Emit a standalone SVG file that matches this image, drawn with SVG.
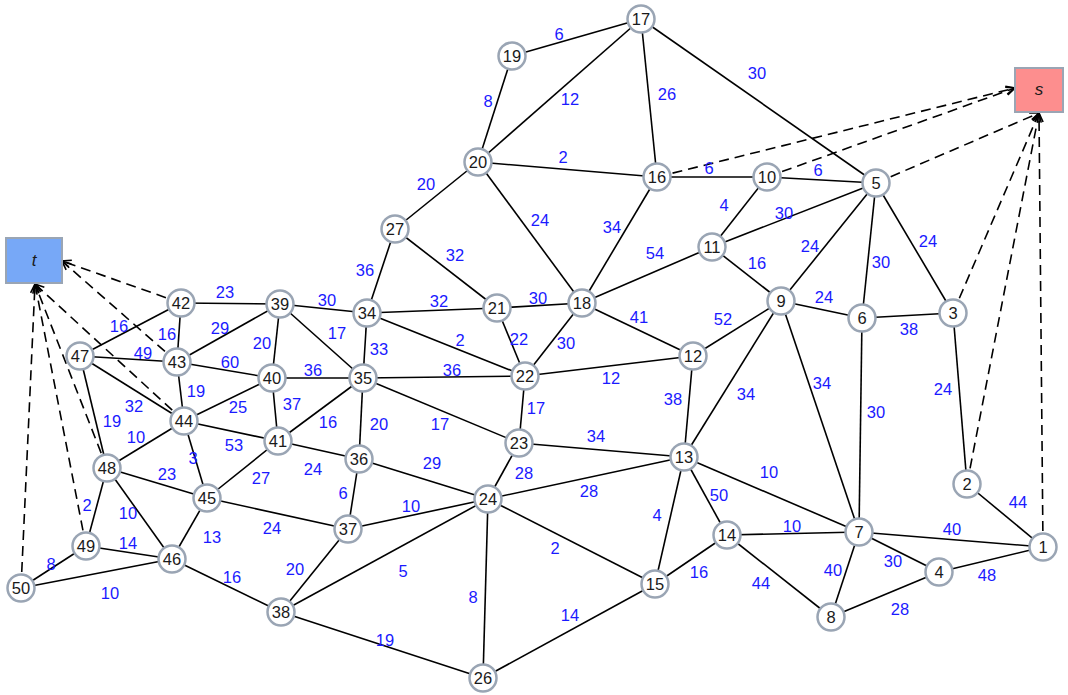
<svg xmlns="http://www.w3.org/2000/svg" width="1068" height="695" viewBox="0 0 1068 695">
<style>
.e{stroke:#000;stroke-width:1.6;fill:none}
.d{stroke:#000;stroke-width:1.6;fill:none;stroke-dasharray:10,6;marker-end:url(#ah)}
.n circle{fill:#fff;stroke:#9aa5b4;stroke-width:2.5}
.n text{font-family:"Liberation Sans",Arial,sans-serif;font-size:16.5px;fill:#1a1a1a;text-anchor:middle}
.w{font-family:"Liberation Sans",Arial,sans-serif;font-size:16.5px;fill:#1a1aff;text-anchor:middle}
.box{stroke:#9aa5b4;stroke-width:2}
.it{font-family:"Liberation Sans",Arial,sans-serif;font-size:17px;font-style:italic;fill:#1a1a1a;text-anchor:middle}
</style>
<defs>
<marker id="ah" markerUnits="userSpaceOnUse" markerWidth="12" markerHeight="10" refX="10" refY="5" orient="auto">
<path d="M1,1 L10,5 L1,9" fill="none" stroke="#000" stroke-width="1.6"/>
</marker>
</defs>
<g id="connectors">
<line class="e" x1="641" y1="19" x2="512" y2="56"/>
<line class="e" x1="641" y1="19" x2="478" y2="162"/>
<line class="e" x1="641" y1="19" x2="657" y2="177"/>
<line class="e" x1="641" y1="19" x2="876" y2="183"/>
<line class="e" x1="512" y1="56" x2="478" y2="162"/>
<line class="e" x1="478" y1="162" x2="657" y2="177"/>
<line class="e" x1="478" y1="162" x2="395" y2="229"/>
<line class="e" x1="478" y1="162" x2="582" y2="303"/>
<line class="e" x1="657" y1="177" x2="767" y2="177"/>
<line class="e" x1="657" y1="177" x2="582" y2="303"/>
<line class="e" x1="767" y1="177" x2="876" y2="183"/>
<line class="e" x1="767" y1="177" x2="712" y2="247"/>
<line class="e" x1="712" y1="247" x2="876" y2="183"/>
<line class="e" x1="712" y1="247" x2="582" y2="303"/>
<line class="e" x1="712" y1="247" x2="781" y2="301"/>
<line class="e" x1="876" y1="183" x2="781" y2="301"/>
<line class="e" x1="876" y1="183" x2="862" y2="318"/>
<line class="e" x1="876" y1="183" x2="953" y2="313"/>
<line class="e" x1="781" y1="301" x2="862" y2="318"/>
<line class="e" x1="862" y1="318" x2="953" y2="313"/>
<line class="e" x1="781" y1="301" x2="693" y2="356"/>
<line class="e" x1="781" y1="301" x2="684" y2="457"/>
<line class="e" x1="781" y1="301" x2="859" y2="532"/>
<line class="e" x1="862" y1="318" x2="859" y2="532"/>
<line class="e" x1="953" y1="313" x2="967" y2="484"/>
<line class="e" x1="967" y1="484" x2="1043" y2="547"/>
<line class="e" x1="395" y1="229" x2="367" y2="313"/>
<line class="e" x1="395" y1="229" x2="497" y2="308"/>
<line class="e" x1="582" y1="303" x2="497" y2="308"/>
<line class="e" x1="582" y1="303" x2="525" y2="376"/>
<line class="e" x1="582" y1="303" x2="693" y2="356"/>
<line class="e" x1="497" y1="308" x2="525" y2="376"/>
<line class="e" x1="367" y1="313" x2="497" y2="308"/>
<line class="e" x1="367" y1="313" x2="525" y2="376"/>
<line class="e" x1="367" y1="313" x2="280" y2="304"/>
<line class="e" x1="367" y1="313" x2="363" y2="378"/>
<line class="e" x1="280" y1="304" x2="181" y2="303"/>
<line class="e" x1="280" y1="304" x2="177" y2="362"/>
<line class="e" x1="280" y1="304" x2="272" y2="378"/>
<line class="e" x1="280" y1="304" x2="363" y2="378"/>
<line class="e" x1="272" y1="378" x2="363" y2="378"/>
<line class="e" x1="272" y1="378" x2="177" y2="362"/>
<line class="e" x1="272" y1="378" x2="184" y2="421"/>
<line class="e" x1="272" y1="378" x2="278" y2="441"/>
<line class="e" x1="363" y1="378" x2="525" y2="376"/>
<line class="e" x1="363" y1="378" x2="278" y2="441"/>
<line class="e" x1="363" y1="378" x2="359" y2="459"/>
<line class="e" x1="363" y1="378" x2="519" y2="443"/>
<line class="e" x1="525" y1="376" x2="693" y2="356"/>
<line class="e" x1="525" y1="376" x2="519" y2="443"/>
<line class="e" x1="519" y1="443" x2="684" y2="457"/>
<line class="e" x1="519" y1="443" x2="488" y2="499"/>
<line class="e" x1="693" y1="356" x2="684" y2="457"/>
<line class="e" x1="684" y1="457" x2="488" y2="499"/>
<line class="e" x1="684" y1="457" x2="859" y2="532"/>
<line class="e" x1="684" y1="457" x2="727" y2="535"/>
<line class="e" x1="684" y1="457" x2="655" y2="584"/>
<line class="e" x1="727" y1="535" x2="859" y2="532"/>
<line class="e" x1="727" y1="535" x2="655" y2="584"/>
<line class="e" x1="727" y1="535" x2="831" y2="617"/>
<line class="e" x1="859" y1="532" x2="1043" y2="547"/>
<line class="e" x1="859" y1="532" x2="939" y2="572"/>
<line class="e" x1="859" y1="532" x2="831" y2="617"/>
<line class="e" x1="939" y1="572" x2="1043" y2="547"/>
<line class="e" x1="831" y1="617" x2="939" y2="572"/>
<line class="e" x1="488" y1="499" x2="655" y2="584"/>
<line class="e" x1="488" y1="499" x2="483" y2="678"/>
<line class="e" x1="488" y1="499" x2="281" y2="612"/>
<line class="e" x1="488" y1="499" x2="348" y2="529"/>
<line class="e" x1="488" y1="499" x2="359" y2="459"/>
<line class="e" x1="483" y1="678" x2="655" y2="584"/>
<line class="e" x1="483" y1="678" x2="281" y2="612"/>
<line class="e" x1="359" y1="459" x2="278" y2="441"/>
<line class="e" x1="359" y1="459" x2="348" y2="529"/>
<line class="e" x1="348" y1="529" x2="207" y2="498"/>
<line class="e" x1="348" y1="529" x2="281" y2="612"/>
<line class="e" x1="281" y1="612" x2="172" y2="559"/>
<line class="e" x1="278" y1="441" x2="207" y2="498"/>
<line class="e" x1="278" y1="441" x2="184" y2="421"/>
<line class="e" x1="181" y1="303" x2="177" y2="362"/>
<line class="e" x1="181" y1="303" x2="80" y2="356"/>
<line class="e" x1="177" y1="362" x2="80" y2="356"/>
<line class="e" x1="177" y1="362" x2="184" y2="421"/>
<line class="e" x1="80" y1="356" x2="184" y2="421"/>
<line class="e" x1="80" y1="356" x2="107" y2="468"/>
<line class="e" x1="184" y1="421" x2="107" y2="468"/>
<line class="e" x1="184" y1="421" x2="207" y2="498"/>
<line class="e" x1="107" y1="468" x2="207" y2="498"/>
<line class="e" x1="107" y1="468" x2="86" y2="546"/>
<line class="e" x1="107" y1="468" x2="172" y2="559"/>
<line class="e" x1="207" y1="498" x2="172" y2="559"/>
<line class="e" x1="86" y1="546" x2="172" y2="559"/>
<line class="e" x1="86" y1="546" x2="21" y2="588"/>
<line class="e" x1="21" y1="588" x2="172" y2="559"/>
<line class="d" x1="181" y1="303" x2="62" y2="261"/>
<line class="d" x1="177" y1="362" x2="62" y2="261"/>
<line class="d" x1="184" y1="421" x2="35" y2="284"/>
<line class="d" x1="107" y1="468" x2="35" y2="284"/>
<line class="d" x1="86" y1="546" x2="35" y2="284"/>
<line class="d" x1="21" y1="588" x2="35" y2="284"/>
<line class="d" x1="657" y1="177" x2="1015" y2="88"/>
<line class="d" x1="767" y1="177" x2="1015" y2="88"/>
<line class="d" x1="876" y1="183" x2="1039" y2="113"/>
<line class="d" x1="953" y1="313" x2="1039" y2="113"/>
<line class="d" x1="967" y1="484" x2="1039" y2="113"/>
<line class="d" x1="1043" y1="547" x2="1039" y2="113"/>
</g>
<g id="weights" transform="translate(0,0.5)">
<text class="w" x="559" y="39">6</text>
<text class="w" x="570" y="104">12</text>
<text class="w" x="667" y="99">26</text>
<text class="w" x="757" y="78">30</text>
<text class="w" x="488" y="106">8</text>
<text class="w" x="563" y="162">2</text>
<text class="w" x="426" y="189">20</text>
<text class="w" x="540" y="225">24</text>
<text class="w" x="709" y="173">6</text>
<text class="w" x="612" y="232">34</text>
<text class="w" x="818" y="175">6</text>
<text class="w" x="724" y="210">4</text>
<text class="w" x="784" y="218">30</text>
<text class="w" x="655" y="258">54</text>
<text class="w" x="757" y="268">16</text>
<text class="w" x="810" y="251">24</text>
<text class="w" x="881" y="267">30</text>
<text class="w" x="928" y="246">24</text>
<text class="w" x="824" y="302">24</text>
<text class="w" x="909" y="334">38</text>
<text class="w" x="723" y="324">52</text>
<text class="w" x="746" y="399">34</text>
<text class="w" x="822" y="388">34</text>
<text class="w" x="876" y="417">30</text>
<text class="w" x="943" y="394">24</text>
<text class="w" x="1018" y="507">44</text>
<text class="w" x="365" y="275">36</text>
<text class="w" x="455" y="260">32</text>
<text class="w" x="538" y="303">30</text>
<text class="w" x="566" y="348">30</text>
<text class="w" x="639" y="322">41</text>
<text class="w" x="519" y="344">22</text>
<text class="w" x="439" y="306">32</text>
<text class="w" x="460" y="345">2</text>
<text class="w" x="327" y="305">30</text>
<text class="w" x="379" y="354">33</text>
<text class="w" x="225" y="297">23</text>
<text class="w" x="220" y="333">29</text>
<text class="w" x="262" y="348">20</text>
<text class="w" x="337" y="338">17</text>
<text class="w" x="313" y="375">36</text>
<text class="w" x="230" y="367">60</text>
<text class="w" x="238" y="412">25</text>
<text class="w" x="292" y="409">37</text>
<text class="w" x="452" y="375">36</text>
<text class="w" x="328" y="427">16</text>
<text class="w" x="379" y="429">20</text>
<text class="w" x="440" y="429">17</text>
<text class="w" x="611" y="383">12</text>
<text class="w" x="536" y="413">17</text>
<text class="w" x="596" y="441">34</text>
<text class="w" x="524" y="478">28</text>
<text class="w" x="673" y="404">38</text>
<text class="w" x="589" y="496">28</text>
<text class="w" x="769" y="477">10</text>
<text class="w" x="719" y="500">50</text>
<text class="w" x="657" y="520">4</text>
<text class="w" x="792" y="531">10</text>
<text class="w" x="699" y="577">16</text>
<text class="w" x="761" y="588">44</text>
<text class="w" x="952" y="534">40</text>
<text class="w" x="893" y="566">30</text>
<text class="w" x="833" y="575">40</text>
<text class="w" x="987" y="580">48</text>
<text class="w" x="900" y="614">28</text>
<text class="w" x="555" y="553">2</text>
<text class="w" x="473" y="602">8</text>
<text class="w" x="403" y="576">5</text>
<text class="w" x="411" y="511">10</text>
<text class="w" x="432" y="468">29</text>
<text class="w" x="570" y="620">14</text>
<text class="w" x="385" y="645">19</text>
<text class="w" x="313" y="474">24</text>
<text class="w" x="343" y="498">6</text>
<text class="w" x="272" y="533">24</text>
<text class="w" x="295" y="574">20</text>
<text class="w" x="232" y="582">16</text>
<text class="w" x="261" y="483">27</text>
<text class="w" x="234" y="450">53</text>
<text class="w" x="167" y="339">16</text>
<text class="w" x="119" y="331">16</text>
<text class="w" x="143" y="358">49</text>
<text class="w" x="196" y="396">19</text>
<text class="w" x="134" y="411">32</text>
<text class="w" x="112" y="426">19</text>
<text class="w" x="136" y="442">10</text>
<text class="w" x="193" y="463">3</text>
<text class="w" x="167" y="479">23</text>
<text class="w" x="87" y="510">2</text>
<text class="w" x="128" y="518">10</text>
<text class="w" x="212" y="542">13</text>
<text class="w" x="128" y="548">14</text>
<text class="w" x="51" y="569">8</text>
<text class="w" x="110" y="598">10</text>
</g>
<g id="node-t"><rect class="box" x="6" y="238" width="56" height="45" fill="#77a8f7"/><text class="it" x="34" y="266">t</text></g>
<g id="node-s"><rect class="box" x="1015" y="68" width="48" height="44" fill="#fd8e8e"/><text class="it" x="1039" y="95">s</text></g>
<g id="node-1" class="n"><circle cx="1043" cy="547" r="13.5"/><text x="1043" y="553">1</text></g>
<g id="node-2" class="n"><circle cx="967" cy="484" r="13.5"/><text x="967" y="490">2</text></g>
<g id="node-3" class="n"><circle cx="953" cy="313" r="13.5"/><text x="953" y="319">3</text></g>
<g id="node-4" class="n"><circle cx="939" cy="572" r="13.5"/><text x="939" y="578">4</text></g>
<g id="node-5" class="n"><circle cx="876" cy="183" r="13.5"/><text x="876" y="189">5</text></g>
<g id="node-6" class="n"><circle cx="862" cy="318" r="13.5"/><text x="862" y="324">6</text></g>
<g id="node-7" class="n"><circle cx="859" cy="532" r="13.5"/><text x="859" y="538">7</text></g>
<g id="node-8" class="n"><circle cx="831" cy="617" r="13.5"/><text x="831" y="623">8</text></g>
<g id="node-9" class="n"><circle cx="781" cy="301" r="13.5"/><text x="781" y="307">9</text></g>
<g id="node-10" class="n"><circle cx="767" cy="177" r="13.5"/><text x="767" y="183">10</text></g>
<g id="node-11" class="n"><circle cx="712" cy="247" r="13.5"/><text x="712" y="253">11</text></g>
<g id="node-12" class="n"><circle cx="693" cy="356" r="13.5"/><text x="693" y="362">12</text></g>
<g id="node-13" class="n"><circle cx="684" cy="457" r="13.5"/><text x="684" y="463">13</text></g>
<g id="node-14" class="n"><circle cx="727" cy="535" r="13.5"/><text x="727" y="541">14</text></g>
<g id="node-15" class="n"><circle cx="655" cy="584" r="13.5"/><text x="655" y="590">15</text></g>
<g id="node-16" class="n"><circle cx="657" cy="177" r="13.5"/><text x="657" y="183">16</text></g>
<g id="node-17" class="n"><circle cx="641" cy="19" r="13.5"/><text x="641" y="25">17</text></g>
<g id="node-18" class="n"><circle cx="582" cy="303" r="13.5"/><text x="582" y="309">18</text></g>
<g id="node-19" class="n"><circle cx="512" cy="56" r="13.5"/><text x="512" y="62">19</text></g>
<g id="node-20" class="n"><circle cx="478" cy="162" r="13.5"/><text x="478" y="168">20</text></g>
<g id="node-21" class="n"><circle cx="497" cy="308" r="13.5"/><text x="497" y="314">21</text></g>
<g id="node-22" class="n"><circle cx="525" cy="376" r="13.5"/><text x="525" y="382">22</text></g>
<g id="node-23" class="n"><circle cx="519" cy="443" r="13.5"/><text x="519" y="449">23</text></g>
<g id="node-24" class="n"><circle cx="488" cy="499" r="13.5"/><text x="488" y="505">24</text></g>
<g id="node-26" class="n"><circle cx="483" cy="678" r="13.5"/><text x="483" y="684">26</text></g>
<g id="node-27" class="n"><circle cx="395" cy="229" r="13.5"/><text x="395" y="235">27</text></g>
<g id="node-34" class="n"><circle cx="367" cy="313" r="13.5"/><text x="367" y="319">34</text></g>
<g id="node-35" class="n"><circle cx="363" cy="378" r="13.5"/><text x="363" y="384">35</text></g>
<g id="node-36" class="n"><circle cx="359" cy="459" r="13.5"/><text x="359" y="465">36</text></g>
<g id="node-37" class="n"><circle cx="348" cy="529" r="13.5"/><text x="348" y="535">37</text></g>
<g id="node-38" class="n"><circle cx="281" cy="612" r="13.5"/><text x="281" y="618">38</text></g>
<g id="node-39" class="n"><circle cx="280" cy="304" r="13.5"/><text x="280" y="310">39</text></g>
<g id="node-40" class="n"><circle cx="272" cy="378" r="13.5"/><text x="272" y="384">40</text></g>
<g id="node-41" class="n"><circle cx="278" cy="441" r="13.5"/><text x="278" y="447">41</text></g>
<g id="node-42" class="n"><circle cx="181" cy="303" r="13.5"/><text x="181" y="309">42</text></g>
<g id="node-43" class="n"><circle cx="177" cy="362" r="13.5"/><text x="177" y="368">43</text></g>
<g id="node-44" class="n"><circle cx="184" cy="421" r="13.5"/><text x="184" y="427">44</text></g>
<g id="node-45" class="n"><circle cx="207" cy="498" r="13.5"/><text x="207" y="504">45</text></g>
<g id="node-46" class="n"><circle cx="172" cy="559" r="13.5"/><text x="172" y="565">46</text></g>
<g id="node-47" class="n"><circle cx="80" cy="356" r="13.5"/><text x="80" y="362">47</text></g>
<g id="node-48" class="n"><circle cx="107" cy="468" r="13.5"/><text x="107" y="474">48</text></g>
<g id="node-49" class="n"><circle cx="86" cy="546" r="13.5"/><text x="86" y="552">49</text></g>
<g id="node-50" class="n"><circle cx="21" cy="588" r="13.5"/><text x="21" y="594">50</text></g>
</svg>
